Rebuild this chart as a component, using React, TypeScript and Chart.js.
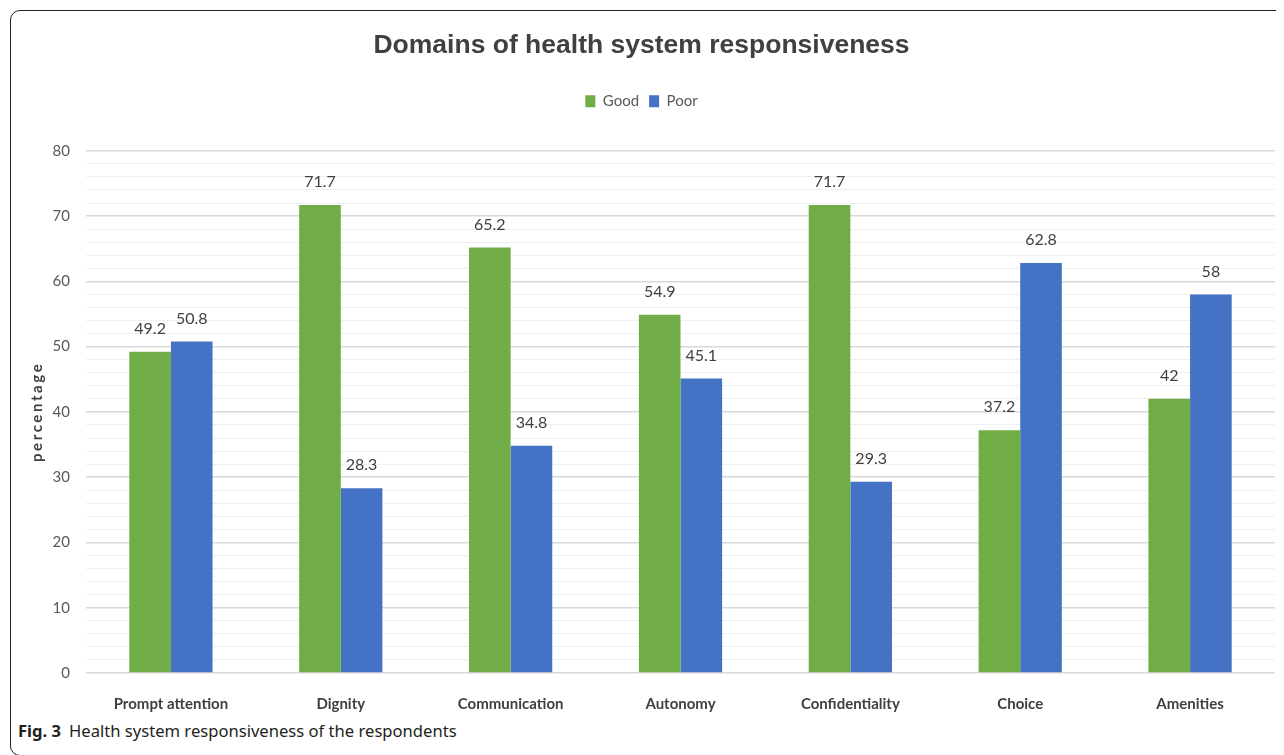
import React, { useEffect, useRef } from "react";
import { Chart, registerables } from "chart.js";

Chart.register(...registerables);

const categories = ["Prompt attention", "Dignity", "Communication", "Autonomy", "Confidentiality", "Choice", "Amenities"];
const goodValues = [49.2, 71.7, 65.2, 54.9, 71.7, 37.2, 42];
const poorValues = [50.8, 28.3, 34.8, 45.1, 29.3, 62.8, 58];
const seriesNames = ["Good", "Poor"];
const titleText = "Domains of health system responsiveness";
const yAxisTitle = "percentage";
const yMin = 0;
const yMax = 80;

const GREEN = "#70AD47";
const BLUE = "#4472C4";

const valueLabelPlugin = {
  id: "valueLabels",
  afterDatasetsDraw(chart: any) {
    const ctx = chart.ctx;
    ctx.save();
    ctx.font = "16px Lato";
    ctx.fillStyle = "#404040";
    ctx.textAlign = "center";
    ctx.textBaseline = "middle";
    chart.data.datasets.forEach((ds: any, di: number) => {
      const meta = chart.getDatasetMeta(di);
      meta.data.forEach((bar: any, i: number) => {
        ctx.fillText(String(ds.data[i]), bar.x, bar.y - 23);
      });
    });
    ctx.restore();
  },
};

const yTitlePlugin = {
  id: "yTitle",
  afterDraw(chart: any) {
    const ctx = chart.ctx;
    const area = chart.chartArea;
    ctx.save();
    ctx.translate(29, (area.top + area.bottom) / 2);
    ctx.rotate(-Math.PI / 2);
    ctx.font = "bold 15px Lato";
    (ctx as any).letterSpacing = "2.6px";
    ctx.fillStyle = "#404040";
    ctx.textAlign = "center";
    ctx.textBaseline = "middle";
    ctx.fillText(yAxisTitle, 0, 0);
    ctx.restore();
  },
};

const legendSpacer = {
  id: "legendSpacer",
  beforeInit(chart: any) {
    const orig = chart.legend.fit;
    chart.legend.fit = function () {
      orig.call(this);
      this.height += 32;
    };
  },
};

function BarChart() {
  const ref = useRef<HTMLCanvasElement | null>(null);
  useEffect(() => {
    if (!ref.current) return;
    const chart = new Chart(ref.current, {
      type: "bar",
      data: {
        labels: categories,
        datasets: [
          { label: seriesNames[0], data: goodValues, backgroundColor: GREEN, borderWidth: 0 },
          { label: seriesNames[1], data: poorValues, backgroundColor: BLUE, borderWidth: 0 },
        ],
      },
      options: {
        animation: false,
        responsive: false,
        maintainAspectRatio: false,
        layout: { padding: { left: 0, right: 9, top: 0, bottom: 0 } },
        datasets: { bar: { categoryPercentage: 0.49, barPercentage: 1 } },
        plugins: {
          title: {
            display: true,
            text: titleText,
            color: "#404040",
            font: { family: "Liberation Sans", size: 26.5, weight: "bold" },
            padding: { top: 22, bottom: 22 },
          },
          legend: {
            display: true,
            labels: {
              boxWidth: 10,
              boxHeight: 12,
              color: "#595959",
              font: { family: "Lato", size: 15 },
              padding: 10,
            },
          },
          tooltip: { enabled: false },
        },
        scales: {
          x: {
            grid: { display: false, drawTicks: false },
            border: { display: false },
            ticks: { color: "#404040", font: { family: "Lato", size: 15, weight: "bold" }, padding: 22, maxRotation: 0 },
            afterFit(scale: any) { scale.height = 45; },
          },
          y: {
            min: yMin,
            max: yMax,
            border: { display: false },
            grid: {
              drawTicks: false,
              color: (c: any) => (c.tick && c.tick.value % 10 === 0 ? "#d9d9d9" : "#efefef"),
              lineWidth: (c: any) => (c.tick && c.tick.value % 10 === 0 ? 1.5 : 1),
            },
            ticks: {
              stepSize: 2,
              autoSkip: false,
              padding: 16,
              color: "#595959",
              font: { family: "Lato", size: 15 },
              callback: (v: any) => (Number(v) % 10 === 0 ? String(v) : ""),
            },
            afterFit(scale: any) { scale.width = 78; },
          },
        },
      },
      plugins: [legendSpacer, valueLabelPlugin, yTitlePlugin],
    });
    return () => chart.destroy();
  }, []);
  return <canvas ref={ref} width={1276} height={710} style={{ position: "absolute", left: 0, top: 0, width: 1276, height: 710 }} />;
}

export default function App() {
  return (
    <div style={{ position: "relative", width: 1276, height: 747, overflow: "hidden", background: "#fff" }}>
      <div
        style={{
          position: "absolute",
          left: 2,
          top: 2,
          width: 1320,
          height: 746,
          border: "1.5px solid #222",
          borderRadius: 10,
          boxSizing: "border-box",
        }}
      />
      <BarChart />
      <div
        style={{
          position: "absolute",
          left: 10,
          top: 711,
          fontFamily: "'Noto Sans', sans-serif",
          fontSize: 16.6,
          color: "#231f20",
          whiteSpace: "nowrap",
        }}
      >
        <b>Fig. 3</b>
        <span style={{ marginLeft: 8 }}>Health system responsiveness of the respondents</span>
      </div>
    </div>
  );
}
